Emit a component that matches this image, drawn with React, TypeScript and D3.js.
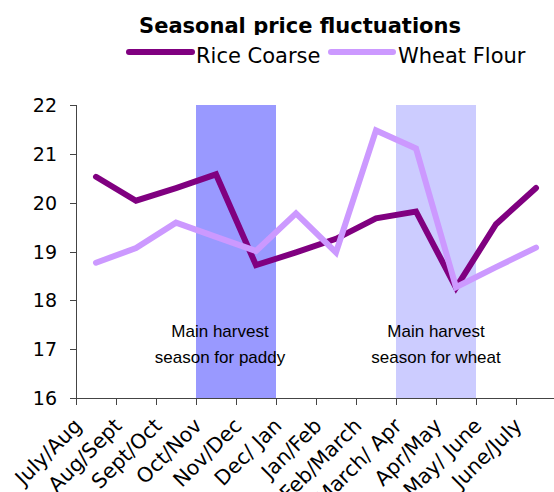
import React from "react";
import * as d3 from "d3";

const categories = [
  "July/Aug", "Aug/Sept", "Sept/Oct", "Oct/Nov", "Nov/Dec", "Dec/ Jan",
  "Jan/Feb", "Feb/March", "March/ Apr", "Apr/May", "May/ June", "June/July",
];
const riceCoarse = [20.53, 20.04, 20.3, 20.58, 18.72, 18.98, 19.26, 19.68, 19.82, 18.26, 19.56, 20.3];
const wheatFlour = [18.77, 19.07, 19.59, 19.3, 19.01, 19.78, 18.98, 21.48, 21.11, 18.27, 18.68, 19.08];
const yTicks = [16, 17, 18, 19, 20, 21, 22];
const seriesNames = ["Rice Coarse", "Wheat Flour"];
const seriesColors = ["#800080", "#CC99FF"];
const harvestBands = [
  { from: "Oct/Nov", to: "Nov/Dec", color: "#9999FF", lines: ["Main harvest", "season for paddy"] },
  { from: "March/ Apr", to: "Apr/May", color: "#CCCCFF", lines: ["Main harvest", "season for wheat"] },
];

const W = 554;
const H = 492;
const FONT = "'DejaVu Sans', Verdana, sans-serif";

export default function App() {
  const x = d3.scaleBand<string>().domain(categories).range([76, 556]).padding(0);
  const y = d3.scaleLinear().domain([16, 22]).range([398, 105]);
  const bw = x.bandwidth();
  const cx = (c: string) => (x(c) as number) + bw / 2;
  const line = d3
    .line<number>()
    .x((_, i) => cx(categories[i]))
    .y((d) => y(d));
  const series = [riceCoarse, wheatFlour];
  const bottom = y(16);
  const top = y(22);
  const tickPositions = categories.map((c) => x(c) as number).concat([556]);

  return (
    <svg width={W} height={H} style={{ position: "absolute", left: 0, top: 0, background: "#fff" }}>
      <rect x={0} y={0} width={W} height={H} fill="#fff" />
      {harvestBands.map((b, i) => {
        const x0 = x(b.from) as number;
        const x1 = (x(b.to) as number) + bw;
        return <rect key={i} x={x0} y={top} width={x1 - x0} height={bottom - top} fill={b.color} />;
      })}
      {harvestBands.map((b, i) => {
        const x0 = x(b.from) as number;
        const x1 = (x(b.to) as number) + bw;
        const mid = (x0 + x1) / 2 - (i === 0 ? 16 : 0);
        return (
          <text key={i} textAnchor="middle" fontFamily="'Liberation Sans', Arial, sans-serif" fontSize={17} fill="#000">
            {b.lines.map((l, j) => (
              <tspan key={j} x={mid} y={337 + j * 26}>{l}</tspan>
            ))}
          </text>
        );
      })}
      {/* axes */}
      <line x1={76.5} x2={76.5} y1={top} y2={bottom} stroke="#444" strokeWidth={1} />
      <line x1={76} x2={556} y1={bottom + 0.5} y2={bottom + 0.5} stroke="#444" strokeWidth={1} />
      {yTicks.map((t) => (
        <g key={t}>
          <line x1={70} x2={76.5} y1={Math.round(y(t)) + 0.5} y2={Math.round(y(t)) + 0.5} stroke="#444" />
          <text x={57} y={y(t) + 7} textAnchor="end" fontFamily={FONT} fontSize={19} fill="#000">{t}</text>
        </g>
      ))}
      {tickPositions.map((p, i) => (
        <line key={i} x1={p + 0.5} x2={p + 0.5} y1={bottom} y2={bottom + 7} stroke="#444" />
      ))}
      {categories.map((c) => (
        <text
          key={c}
          transform={`translate(${cx(c) - 13},${bottom + 29}) rotate(-45)`}
          textAnchor="end"
          fontFamily={FONT}
          fontSize={20.5}
          fill="#000"
        >
          {c}
        </text>
      ))}
      {series.map((s, i) => (
        <path key={i} d={line(s) as string} fill="none" stroke={seriesColors[i]} strokeWidth={6} strokeLinejoin="miter" strokeLinecap="round" />
      ))}
      {/* title */}
      <text x={300} y={33} textAnchor="middle" fontFamily={FONT} fontWeight="bold" fontSize={21} fill="#000">
        Seasonal price fluctuations
      </text>
      <rect x={125} y={35} width={410} height={34} fill="#fff" />
      {/* legend */}
      <line x1={129} x2={192} y1={52} y2={52} stroke={seriesColors[0]} strokeWidth={6} strokeLinecap="round" />
      <text x={196} y={63} fontFamily={FONT} fontSize={21} fill="#000">{seriesNames[0]}</text>
      <line x1={331} x2={393} y1={52} y2={52} stroke={seriesColors[1]} strokeWidth={6} strokeLinecap="round" />
      <text x={398} y={63} fontFamily={FONT} fontSize={21} fill="#000">{seriesNames[1]}</text>
    </svg>
  );
}
